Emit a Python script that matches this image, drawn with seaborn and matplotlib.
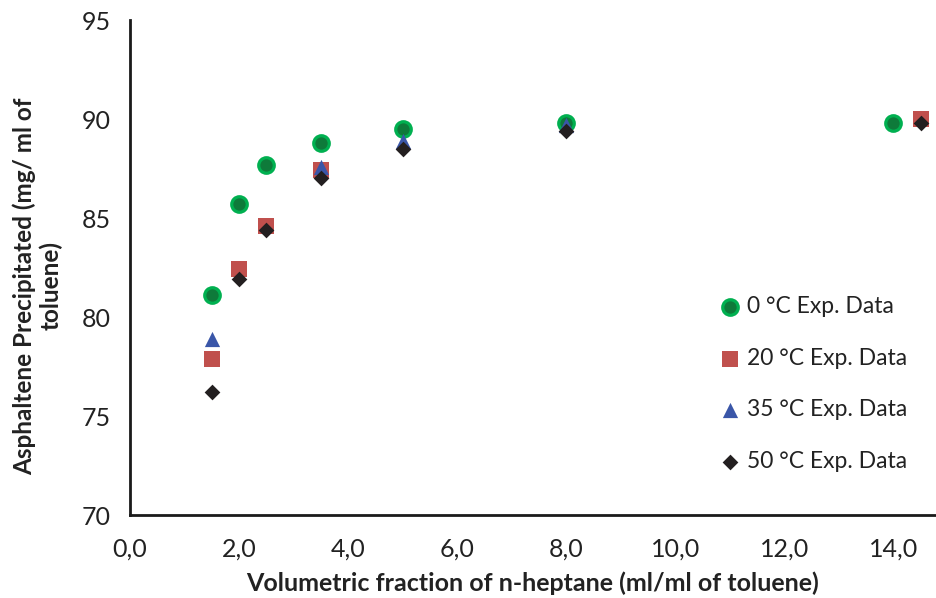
import matplotlib
matplotlib.use("Agg")
import matplotlib.pyplot as plt
import matplotlib.ticker as mticker
import numpy as np
import pandas as pd
import seaborn as sns

# Asphaltene precipitation vs. n-heptane dilution at four temperatures
x_0c = [1.5, 2.0, 2.5, 3.5, 5.0, 8.0, 14.0]
y_0c = [81.1, 85.7, 87.7, 88.8, 89.5, 89.8, 89.8]

x_20c = [1.5, 2.0, 2.5, 3.5, 14.5]
y_20c = [77.9, 82.4, 84.6, 87.4, 90.0]

x_35c = [1.5, 3.5, 5.0, 8.0]
y_35c = [78.9, 87.6, 88.9, 89.7]

x_50c = [1.5, 2.0, 2.5, 3.5, 5.0, 8.0, 14.5]
y_50c = [76.2, 81.9, 84.4, 87.0, 88.5, 89.4, 89.8]

series_labels = ["0 °C Exp. Data", "20 °C Exp. Data", "35 °C Exp. Data", "50 °C Exp. Data"]
x_ticks = [0, 2, 4, 6, 8, 10, 12, 14]
y_ticks = [70, 75, 80, 85, 90, 95]

frames = []
for lab, xs, ys in zip(series_labels, [x_0c, x_20c, x_35c, x_50c], [y_0c, y_20c, y_35c, y_50c]):
    frames.append(pd.DataFrame({"x": xs, "y": ys, "series": lab}))
df = pd.concat(frames, ignore_index=True)

sns.set_theme(style="white")
plt.rcParams["font.family"] = ["Lato", "DejaVu Sans"]

styles = {
    series_labels[0]: dict(marker="o", color="#0e7a3a", edgecolor="#00b050", s=125, linewidth=2.3),
    series_labels[1]: dict(marker="s", color="#c0504d", edgecolor="#c0504d", s=125, linewidth=0),
    series_labels[2]: dict(marker="^", color="#3a56a8", edgecolor="#3a56a8", s=120, linewidth=0),
    series_labels[3]: dict(marker="D", color="#231f20", edgecolor="#231f20", s=64, linewidth=0),
}

fig = plt.figure(figsize=(9.36, 5.98), dpi=100)
ax = fig.add_axes([130 / 936, 1 - 515 / 598, 806 / 936, 495 / 598])

for lab in series_labels:
    sub = df[df["series"] == lab]
    sns.scatterplot(data=sub, x="x", y="y", ax=ax, label=lab, zorder=3, **styles[lab])

ax.set_xlim(0, 14.78)
ax.set_ylim(70, 95)
ax.set_xticks(x_ticks)
ax.set_yticks(y_ticks)
ax.xaxis.set_major_formatter(mticker.FuncFormatter(lambda v, p: f"{v:.1f}".replace(".", ",")))
ax.yaxis.set_major_formatter(mticker.FuncFormatter(lambda v, p: f"{v:.0f}"))

for side in ["top", "right"]:
    ax.spines[side].set_visible(False)
for side in ["left", "bottom"]:
    ax.spines[side].set_linewidth(2.0)
    ax.spines[side].set_color("#1a1a1a")

ax.tick_params(axis="both", direction="in", length=6, width=1.8, color="#1a1a1a",
               labelsize=18, labelcolor="#222222")
ax.tick_params(axis="x", pad=16)
ax.tick_params(axis="y", pad=14)

ax.set_xlabel("Volumetric fraction of n-heptane (ml/ml of toluene)", fontsize=18,
              fontweight="bold", color="#222222", labelpad=8)
ax.set_ylabel("Asphaltene Precipitated (mg/ ml of\ntoluene)", fontsize=17.5,
              fontweight="bold", color="#222222", linespacing=1.2)
ax.yaxis.set_label_coords(-0.083, 0.463)

leg = ax.legend(loc="upper left", bbox_to_anchor=(0.716, 0.46), frameon=False,
                fontsize=16.5, labelspacing=1.33, handletextpad=0.15, borderaxespad=0,
                handlelength=1.2)
for t in leg.get_texts():
    t.set_color("#222222")

fig.savefig("out.png", dpi=100)
